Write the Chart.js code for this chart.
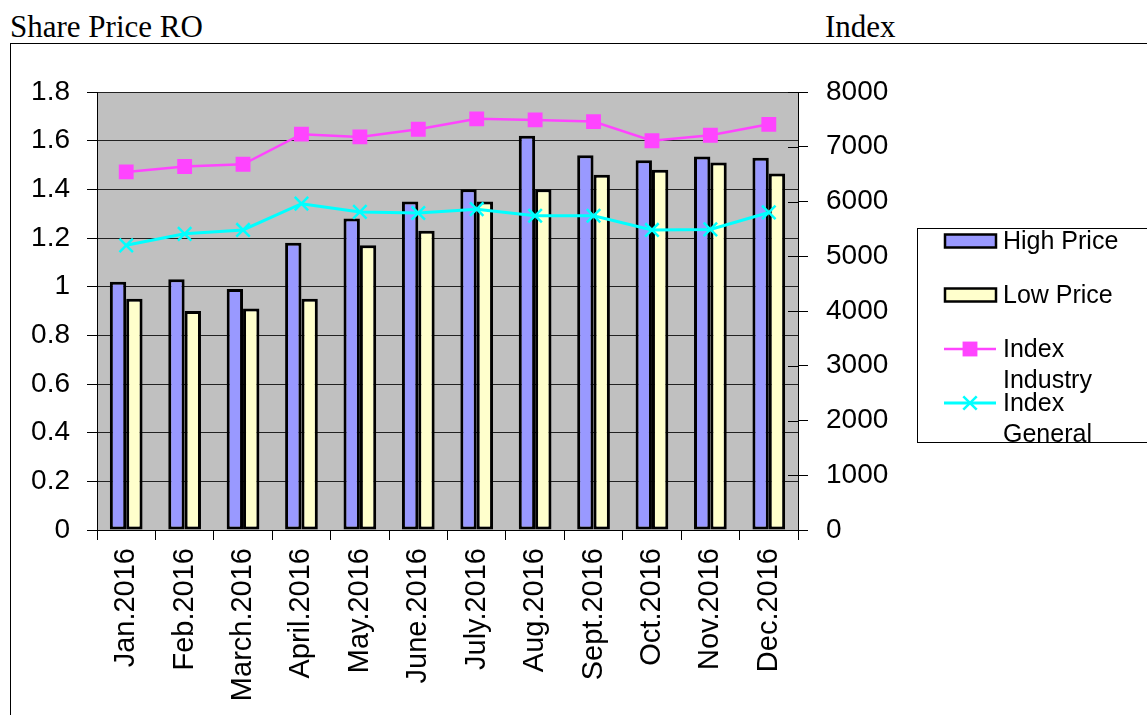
<!DOCTYPE html>
<html>
<head>
<meta charset="utf-8">
<title>Share Price RO</title>
<script src="https://cdn.jsdelivr.net/npm/chart.js@4.4.1/dist/chart.umd.min.js"></script>
<style>
  html, body { margin: 0; padding: 0; background: #fff; overflow: hidden; }
  #wrap { position: relative; width: 1147px; height: 715px; }
  .cap { position: absolute; top: 9px; font: 31px "Liberation Serif", "Times New Roman", serif; color: #000; }
  #frame { position: absolute; left: 10px; top: 43px; width: 1200px; height: 700px;
           border-left: 1px solid #000; border-top: 1px solid #000; }
  #chart { position: absolute; left: 0; top: 0; }
</style>
</head>
<body>
<div id="wrap">
  <div class="cap" style="left:10px">Share Price RO</div>
  <div class="cap" style="left:825px">Index</div>
  <div id="frame"></div>
  <canvas id="chart" width="1147" height="715"></canvas>
</div>
<script>
  var MONTHS = ['Jan.2016', 'Feb.2016', 'March.2016', 'April.2016', 'May.2016', 'June.2016',
    'July.2016', 'Aug.2016', 'Sept.2016', 'Oct.2016', 'Nov.2016', 'Dec.2016'];

  var HIGH_PRICE = [1.02, 1.03, 0.99, 1.18, 1.28, 1.35, 1.40, 1.62, 1.54, 1.52, 1.535, 1.53];
  var LOW_PRICE = [0.95, 0.90, 0.91, 0.95, 1.17, 1.23, 1.35, 1.40, 1.46, 1.48, 1.51, 1.465];

  var INDEX_INDUSTRY = [6540, 6640, 6680, 7230, 7180, 7320, 7510, 7490, 7460, 7110, 7210, 7410];
  var INDEX_GENERAL = [5200, 5410, 5480, 5960, 5810, 5790, 5860, 5740, 5740, 5480, 5490, 5800];

  var PRICE_TICKS = [0, 0.2, 0.4, 0.6, 0.8, 1, 1.2, 1.4, 1.6, 1.8];
  var INDEX_TICKS = [0, 1000, 2000, 3000, 4000, 5000, 6000, 7000, 8000];

  var LEGEND_LINES = [['High Price'], ['Low Price'], ['Index', 'Industry'], ['Index', 'General']];

  Chart.defaults.font.family = '"Liberation Sans", Arial, sans-serif';
  Chart.defaults.font.size = 28;
  Chart.defaults.color = '#000';

  // grey plot area, like the old office chart
  var plotBg = {
    id: 'plotBg',
    beforeDraw: function (chart) {
      var a = chart.chartArea, ctx = chart.ctx;
      ctx.save();
      ctx.fillStyle = '#c0c0c0';
      ctx.fillRect(a.left, a.top, a.right - a.left, a.bottom - a.top);
      ctx.restore();
    },
    // right axis ticks cross into the plot as well
    beforeDatasetsDraw: function (chart) {
      var s = chart.scales.y1, ctx = chart.ctx;
      ctx.save();
      ctx.strokeStyle = '#000';
      ctx.lineWidth = 1;
      s.ticks.forEach(function (t) {
        var y = Math.round(s.getPixelForValue(t.value)) + 0.5;
        ctx.beginPath();
        ctx.moveTo(s.left - 10, y);
        ctx.lineTo(s.left, y);
        ctx.stroke();
      });
      ctx.restore();
    }
  };

  var boxLegend = {
    id: 'boxLegend',
    afterDraw: function (chart) {
      var ctx = chart.ctx;
      var left = 917.5, top = 228.5, right = 1160, bottom = 442.5;
      var rows = [241, 295, 349, 403];
      ctx.save();
      ctx.strokeStyle = '#000';
      ctx.lineWidth = 1;
      ctx.strokeRect(left, top, right - left, bottom - top);
      ctx.font = '25px "Liberation Sans", Arial, sans-serif';
      ctx.textBaseline = 'middle';
      chart.data.datasets.forEach(function (ds, i) {
        var y = rows[i];
        if (ds.type === 'line') {
          ctx.strokeStyle = ds.borderColor;
          ctx.lineWidth = ds.borderWidth;
          ctx.beginPath();
          ctx.moveTo(944, y);
          ctx.lineTo(996, y);
          ctx.stroke();
          ctx.fillStyle = ds.pointBackgroundColor;
          ctx.strokeStyle = ds.pointBorderColor;
          ctx.lineWidth = ds.pointBorderWidth;
          ctx.beginPath();
          if (ds.pointStyle === 'rect') {
            var h = ds.pointRadius * Math.SQRT1_2;
            ctx.fillRect(970 - h, y - h, 2 * h, 2 * h);
          } else {
            var r = ds.pointRadius * Math.SQRT1_2;
            ctx.moveTo(970 - r, y - r); ctx.lineTo(970 + r, y + r);
            ctx.moveTo(970 + r, y - r); ctx.lineTo(970 - r, y + r);
            ctx.stroke();
          }
        } else {
          ctx.fillStyle = ds.backgroundColor;
          ctx.fillRect(945, y - 6.5, 51, 13);
          ctx.strokeStyle = '#000';
          ctx.lineWidth = 2.5;
          ctx.strokeRect(945, y - 6.5, 51, 13);
        }
        ctx.fillStyle = '#000';
        LEGEND_LINES[i].forEach(function (txt, k) {
          ctx.fillText(txt, 1003, y + 1 + k * 31);
        });
      });
      ctx.restore();
    }
  };

  new Chart(document.getElementById('chart'), {
    data: {
      labels: MONTHS,
      datasets: [
        { type: 'bar', label: 'High Price', data: HIGH_PRICE, yAxisID: 'y', order: 2,
          backgroundColor: '#9999ff', borderColor: '#000', borderWidth: 3, borderSkipped: false,
          categoryPercentage: 0.56, barPercentage: 1 },
        { type: 'bar', label: 'Low Price', data: LOW_PRICE, yAxisID: 'y', order: 2,
          backgroundColor: '#ffffcc', borderColor: '#000', borderWidth: 3, borderSkipped: false,
          categoryPercentage: 0.56, barPercentage: 1 },
        { type: 'line', label: 'Index Industry', data: INDEX_INDUSTRY, yAxisID: 'y1', order: 1,
          borderColor: '#ff44ff', borderWidth: 2.5, tension: 0,
          pointStyle: 'rect', pointRadius: 10.5, pointBackgroundColor: '#ff44ff',
          pointBorderColor: '#ff44ff', pointBorderWidth: 0 },
        { type: 'line', label: 'Index General', data: INDEX_GENERAL, yAxisID: 'y1', order: 1,
          borderColor: '#00ffff', borderWidth: 3, tension: 0,
          pointStyle: 'crossRot', pointRadius: 9.5, pointBackgroundColor: '#00ffff',
          pointBorderColor: '#00ffff', pointBorderWidth: 2.5 }
      ]
    },
    options: {
      responsive: false,
      animation: false,
      layout: { padding: { left: 10, right: 249, top: 92, bottom: 0 } },
      plugins: { legend: { display: false }, tooltip: { enabled: false } },
      scales: {
        x: {
          offset: true,
          grid: { offset: true, drawOnChartArea: false, drawTicks: true, tickLength: 10, color: '#000' },
          border: { display: true, color: '#000', width: 1 },
          ticks: { minRotation: 90, maxRotation: 90, padding: 8, autoSkip: false, font: { size: 29 } },
          afterFit: function (s) { s.height = 185; }
        },
        y: {
          position: 'left', min: 0, max: 1.8,
          afterBuildTicks: function (s) { s.ticks = PRICE_TICKS.map(function (v) { return { value: v }; }); },
          grid: { color: '#222', lineWidth: 1, tickLength: 10, tickColor: '#000' },
          border: { display: true, color: '#000', width: 1 },
          ticks: { padding: 17, callback: function (v) { return String(v); } },
          afterFit: function (s) { s.width = 87; }
        },
        y1: {
          position: 'right', min: 0, max: 8000,
          afterBuildTicks: function (s) { s.ticks = INDEX_TICKS.map(function (v) { return { value: v }; }); },
          grid: { drawOnChartArea: false, tickLength: 10, color: '#000' },
          border: { display: true, color: '#000', width: 1 },
          ticks: { padding: 18, callback: function (v) { return String(v); } },
          afterFit: function (s) { s.width = 100; }
        }
      }
    },
    plugins: [plotBg, boxLegend]
  });
</script>
</body>
</html>
